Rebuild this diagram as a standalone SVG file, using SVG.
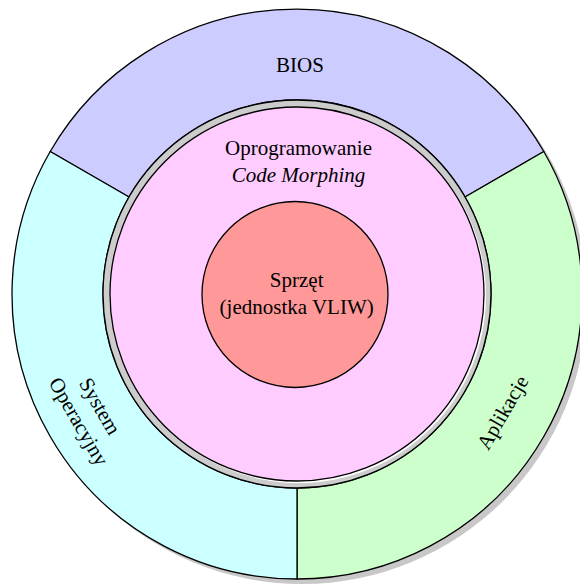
<svg xmlns="http://www.w3.org/2000/svg" width="580" height="586" viewBox="0 0 580 586">
  <style>
    .edge { stroke: #000; stroke-width: 1.3; stroke-linejoin: round; }
    .lbl { font-family: "Liberation Serif", "Times New Roman", serif; font-size: 21px; fill: #000; text-anchor: middle; }
    .it { font-style: italic; }
  </style>

  <!-- drop shadow under the outer ring -->
  <circle cx="302" cy="299" r="285" fill="#c8c8c8"/>

  <!-- outer ring: three sectors -->
  <g id="bios">
    <path class="edge" fill="#ccccff" d="M 50.2 151.5 A 285 285 0 0 1 543.8 151.5 L 465 197 A 194 194 0 0 0 129 197 Z"/>
    <text class="lbl" x="300" y="72">BIOS</text>
  </g>
  <g id="aplikacje">
    <path class="edge" fill="#ccffcc" d="M 543.8 151.5 A 285 285 0 0 1 297 579 L 297 488 A 194 194 0 0 0 465 197 Z"/>
    <text class="lbl" transform="translate(503.5,413) rotate(-60)" x="0" y="6">Aplikacje</text>
  </g>
  <g id="system">
    <path class="edge" fill="#ccffff" d="M 297 579 A 285 285 0 0 1 50.2 151.5 L 129 197 A 194 194 0 0 0 297 488 Z"/>
    <text class="lbl" transform="translate(90,415) rotate(60)">
      <tspan x="0" y="-6">System</tspan>
      <tspan x="0" y="20">Operacyjny</tspan>
    </text>
  </g>

  <!-- middle layer: grey band around the pink disc -->
  <g id="code-morphing">
    <circle class="edge" cx="297" cy="294" r="194" fill="#cccccc"/>
    <circle cx="298.5" cy="295.5" r="187.5" fill="#ffffff"/>
    <circle class="edge" cx="297" cy="294" r="187" fill="#ffccff"/>
    <text class="lbl" x="298.5" y="155">Oprogramowanie</text>
    <text class="lbl it" x="298.5" y="182">Code Morphing</text>
  </g>

  <!-- core: hardware -->
  <g id="sprzet">
    <circle class="edge" cx="295" cy="294.5" r="93" fill="#ff9999"/>
    <text class="lbl" x="296.7" y="287">Sprzęt</text>
    <text class="lbl" x="296.7" y="314">(jednostka VLIW)</text>
  </g>
</svg>
